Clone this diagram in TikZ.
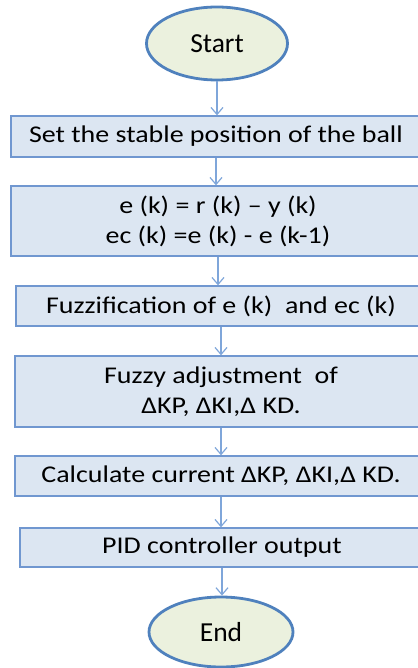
\documentclass[tikz,border=0pt]{standalone}
\usepackage{fontspec}
\setmainfont{Carlito}
\newfontfamily\boxfont{Carlito}[FakeStretch=1.165]
\usetikzlibrary{shapes.geometric,arrows.meta}
\definecolor{boxfill}{HTML}{DCE6F2}
\definecolor{boxline}{HTML}{7097D0}
\definecolor{arrcol}{HTML}{7FA6DA}
\definecolor{ellfill}{HTML}{EBF1DE}
\definecolor{ellline}{HTML}{4F81BD}
\tikzset{
  stepbox/.style={rectangle, draw=boxline, fill=boxfill, line width=1.3pt,
    inner sep=0pt, align=center, font=\boxfont\fontsize{24}{30}\selectfont, text=black},
  termnode/.style={ellipse, draw=ellline, fill=ellfill, line width=2.8pt,
    inner sep=0pt, font=\fontsize{27.5}{30}\selectfont, text=black},
  flow/.style={draw=arrcol, line width=1.2pt, -{Straight Barb[length=7pt,width=12pt,line width=1.2pt]}}
}
\begin{document}
\begin{tikzpicture}[x=1pt,y=-1pt]
\useasboundingbox (0,0) rectangle (417,668);
\node[termnode, minimum width=141pt, minimum height=73pt] (start) at (217,43.5) {Start};
\node[stepbox, minimum width=410pt, minimum height=41pt] (b1) at (216,136.5) {Set the stable position of the ball};
\node[stepbox, minimum width=414pt, minimum height=70pt] (b2) at (218,221) {e (k) = r (k) – y (k)\\ec (k) =e (k) - e (k-1)};
\node[stepbox, minimum width=410pt, minimum height=40pt] (b3) at (221,306) {Fuzzification of e (k)\ \ and ec (k)};
\node[stepbox, minimum width=412pt, minimum height=71pt] (b4) at (221,391.5) {Fuzzy adjustment\ \ of\\ΔKP, ΔKI,Δ KD.};
\node[stepbox, minimum width=412pt, minimum height=40pt] (b5) at (221,476) {Calculate current ΔKP, ΔKI,Δ KD.};
\node[stepbox, minimum width=404pt, minimum height=39pt] (b6) at (222,547.5) {PID controller output};
\node[termnode, minimum width=144pt, minimum height=70pt] (end) at (221,632) {End};
\draw[flow] (start.south) -- (start.south |- b1.north);
\draw[flow] (b1.south) -- (b1.south |- b2.north);
\draw[flow] (b2.south) -- (b2.south |- b3.north);
\draw[flow] (b3.south) -- (b3.south |- b4.north);
\draw[flow] (b4.south) -- (b4.south |- b5.north);
\draw[flow] (b5.south) -- (b5.south |- b6.north);
\draw[flow] (b6.south) -- (b6.south |- end.north);
\end{tikzpicture}
\end{document}
